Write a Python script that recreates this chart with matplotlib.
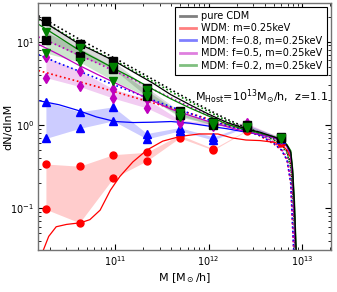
import matplotlib
matplotlib.use('Agg')
import matplotlib.pyplot as plt
import numpy as np

# mass bins of the measured points (log10 M)
bin_logm = [10.26, 10.62, 10.98, 11.34, 11.69, 12.05, 12.41, 12.77]

cdm_hi = [17.7, 9.4, 5.9, 2.8, 1.47, 1.1, 1.0, 0.72]
cdm_lo = [10.4, 6.7, 4.7, 2.2, 1.3, 1.0, 0.95, 0.70]
f02_hi = [13.0, 8.4, 5.0, 2.6, 1.4, 1.05, 0.95, 0.70]
f02_lo = [7.3, 5.7, 3.4, 2.2, 1.25, 1.0, 0.92, 0.68]
f05_hi = [6.5, 4.5, 2.7, 2.05, 1.15, 1.05, 1.05, 0.70]
f05_lo = [3.7, 2.9, 2.1, 1.6, 1.05, 0.98, 1.0, 0.68]
f08_hi = [1.9, 1.44, 1.65, 0.79, 0.93, 0.72, 1.0, 0.70]
f08_lo = [0.69, 0.91, 1.12, 0.68, 0.85, 0.66, 0.95, 0.68]
wdm_hi = [0.34, 0.32, 0.44, 0.47, 0.76, 0.52, 0.87, 0.62]
wdm_lo = [0.097, 0.067, 0.23, 0.37, 0.70, 0.50, 0.85, 0.60]

# model curves (log10 M grid)
line_logm = [10.18, 10.4, 10.6, 10.8, 11.0, 11.2, 11.4, 11.6, 11.8, 12.0, 12.2,
             12.4, 12.55, 12.7, 12.78, 12.84, 12.88, 12.9, 12.92, 12.935, 12.95]
cdm_line = [19, 13.3, 9.6, 7.5, 5.8, 4.3, 3.2, 2.3, 1.75, 1.35, 1.07,
            0.9, 0.82, 0.72, 0.66, 0.57, 0.47, 0.28, 0.1, 0.035, 0.015]
f02_line = [16.2, 11.3, 8.1, 6.2, 4.7, 3.6, 2.7, 2.05, 1.6, 1.28, 1.02,
            0.87, 0.8, 0.72, 0.67, 0.58, 0.49, 0.3, 0.12, 0.04, 0.018]
f05_line = [9.3, 7.0, 5.3, 4.1, 3.2, 2.5, 1.95, 1.55, 1.3, 1.1, 0.95,
            0.83, 0.77, 0.7, 0.64, 0.55, 0.44, 0.25, 0.08, 0.025, 0.012]
f08_line = [1.96, 1.75, 1.5, 1.25, 1.1, 1.07, 1.08, 1.1, 1.05, 0.97, 0.9,
            0.82, 0.77, 0.7, 0.64, 0.55, 0.44, 0.25, 0.08, 0.025, 0.012]
wdm_logm = [10.23, 10.29, 10.37, 10.48, 10.63, 10.73, 10.84, 10.95, 11.05, 11.19, 11.34,
            11.51, 11.7, 11.9, 12.1, 12.25, 12.4, 12.55, 12.7, 12.78, 12.84, 12.88,
            12.9, 12.92, 12.935, 12.95]
wdm_line = [0.031, 0.046, 0.06, 0.064, 0.067, 0.073, 0.095, 0.165, 0.24, 0.36, 0.50,
            0.64, 0.73, 0.78, 0.78, 0.7, 0.66, 0.65, 0.62, 0.58, 0.5, 0.4,
            0.23, 0.075, 0.025, 0.012]

cdm_dot = [20.5, 14.8, 11.0, 8.3, 6.3, 4.75, 3.55, 2.65, 2.0, 1.52, 1.17,
           0.93, 0.81, 0.68, 0.59, 0.48, 0.33, 0.18, 0.06, 0.02, 0.01]
f02_dot = [18.5, 13.5, 10.0, 7.6, 5.9, 4.45, 3.35, 2.5, 1.9, 1.45, 1.12,
           0.9, 0.79, 0.66, 0.57, 0.46, 0.31, 0.17, 0.06, 0.02, 0.01]
f05_dot = [11.4, 8.9, 7.0, 5.6, 4.4, 3.5, 2.7, 2.1, 1.65, 1.3, 1.05,
           0.88, 0.77, 0.62, 0.52, 0.4, 0.22, 0.07, 0.02, 0.01, 0.01]
f08_dot = [7.0, 5.5, 4.5, 3.65, 3.0, 2.45, 2.0, 1.65, 1.38, 1.15, 0.98,
           0.85, 0.75, 0.6, 0.5, 0.38, 0.2, 0.06, 0.02, 0.01, 0.01]
wdm_dot = [4.5, 3.85, 3.35, 2.9, 2.5, 2.15, 1.85, 1.6, 1.38, 1.18, 1.0,
           0.86, 0.74, 0.59, 0.5, 0.38, 0.2, 0.06, 0.02, 0.01, 0.01]

labels = ['pure CDM', 'WDM: m=0.25keV', 'MDM: f=0.8, m=0.25keV',
          'MDM: f=0.5, m=0.25keV', 'MDM: f=0.2, m=0.25keV']

fig = plt.figure(figsize=(3.37, 2.92), dpi=100)
ax = fig.add_axes([0.113, 0.144, 0.869, 0.846])

mb = 10 ** np.array(bin_logm)
ml = 10 ** np.array(line_logm)
mw = 10 ** np.array(wdm_logm)

# shaded bands
ax.fill_between(mb, wdm_lo, wdm_hi, color='r', alpha=0.2, lw=0)
ax.fill_between(mb, f08_lo, f08_hi, color='b', alpha=0.2, lw=0)
ax.fill_between(mb, f05_lo, f05_hi, color='m', alpha=0.2, lw=0)
ax.fill_between(mb, f02_lo, f02_hi, color='g', alpha=0.2, lw=0)
ax.fill_between(mb, cdm_lo, cdm_hi, color='k', alpha=0.15, lw=0)

# dotted curves
for vals, c in [(wdm_dot, 'r'), (f08_dot, 'b'), (f05_dot, 'm'), (f02_dot, 'g'), (cdm_dot, 'k')]:
    ax.plot(ml, vals, ls=':', color=c, lw=1.2)

# solid curves
ax.plot(mw, wdm_line, color='r', lw=0.9)
ax.plot(ml, f08_line, color='b', lw=0.9)
ax.plot(ml, f05_line, color='m', lw=0.9)
ax.plot(ml, f02_line, color='g', lw=0.9)
ax.plot(ml, cdm_line, color='k', lw=0.9)

# points
for lo, hi, c, mk, ms in [(wdm_lo, wdm_hi, 'r', 'o', 5),
                          (f08_lo, f08_hi, 'b', '^', 5.5),
                          (f05_lo, f05_hi, 'm', 'd', 5.5),
                          (cdm_lo, cdm_hi, 'k', 's', 5.5),
                          (f02_lo, f02_hi, 'g', 'v', 5.5)]:
    ax.plot(mb, hi, ls='none', marker=mk, color=c, ms=ms, mec=c)
    ax.plot(mb, lo, ls='none', marker=mk, color=c, ms=ms, mec=c)

# legend proxies
handles = []
for c in ['k', 'r', 'b', 'm', 'g']:
    h, = ax.plot([], [], color=c, lw=2, alpha=0.5)
    handles.append(h)
leg = ax.legend(handles, labels, loc='upper right', fontsize=7, handlelength=1.7,
                handletextpad=0.5, labelspacing=0.25, borderpad=0.45, fancybox=False,
                framealpha=1, bbox_to_anchor=(0.985, 0.985), borderaxespad=0)
leg.get_frame().set_edgecolor('k')
leg.get_frame().set_linewidth(0.8)

ax.text(0.536, 0.62, r'M$_{\mathrm{Host}}$=10$^{13}$M$_{\odot}$/h,  z=1.1',
        transform=ax.transAxes, fontsize=8, ha='left', va='center')

ax.set_xscale('log')
ax.set_yscale('log')
ax.set_xlim(1.5e10, 2.04e13)
ax.set_ylim(0.0316, 29.2)
ax.set_xlabel(r'M [M$_\odot$/h]', fontsize=8, labelpad=2)
ax.set_ylabel('dN/dlnM', fontsize=8)
ax.yaxis.set_label_coords(-0.085, 0.5)
ax.tick_params(which='both', direction='in', top=True, right=True, labelsize=7)
ax.tick_params(which='major', length=4, pad=3)
ax.tick_params(which='minor', length=2)
for s in ax.spines.values():
    s.set_color('0.45')
    s.set_linewidth(1)

fig.savefig('out.png', dpi=100)
